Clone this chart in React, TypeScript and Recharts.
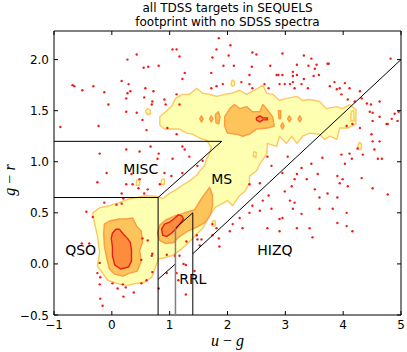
import React from 'react';
import { ComposedChart, Scatter, XAxis, YAxis, ReferenceLine, ReferenceDot } from 'recharts';

type Pt = [number, number];

const FONT = '"DejaVu Sans", sans-serif';
const MATH = '"Liberation Serif", "DejaVu Serif", serif';

const titleLines = ['all TDSS targets in SEQUELS', 'footprint with no SDSS spectra'];
const xTicks = [-1, 0, 1, 2, 3, 4, 5];
const yTicks = [-0.5, 0, 0.5, 1, 1.5, 2];

// lowest density level: QSO blob + stellar locus + red band, one region
const outerDensity: Pt[] = [
  [-0.33, 0.5], [-0.21, 0.55], [-0.04, 0.57], [0.13, 0.6], [0.31, 0.64], [0.44, 0.65], [0.6, 0.67], [0.77, 0.66],
  [0.88, 0.64], [1.0, 0.69], [1.12, 0.73], [1.22, 0.77], [1.34, 0.81], [1.47, 0.87], [1.52, 0.91], [1.6, 0.96],
  [1.64, 1.03], [1.69, 1.08], [1.72, 1.14], [1.64, 1.21], [1.52, 1.23], [1.4, 1.27], [1.29, 1.28], [1.17, 1.32],
  [1.03, 1.32], [0.91, 1.32], [0.83, 1.36], [0.83, 1.44], [0.93, 1.49], [1.03, 1.54], [1.1, 1.62], [1.22, 1.66],
  [1.34, 1.66], [1.47, 1.72], [1.57, 1.67], [1.69, 1.66], [1.81, 1.64], [1.95, 1.66], [2.07, 1.67], [2.21, 1.7],
  [2.33, 1.66], [2.5, 1.71], [2.61, 1.75], [2.68, 1.67], [2.78, 1.66], [2.9, 1.6], [3.02, 1.62], [3.2, 1.64],
  [3.3, 1.6], [3.42, 1.61], [3.59, 1.59], [3.71, 1.52], [3.89, 1.54], [3.99, 1.52], [4.11, 1.56], [4.22, 1.51],
  [4.22, 1.37], [4.08, 1.33], [3.94, 1.33], [3.89, 1.22], [3.77, 1.25], [3.68, 1.22], [3.59, 1.27], [3.42, 1.28],
  [3.3, 1.25], [3.2, 1.18], [3.11, 1.25], [3.02, 1.18], [2.9, 1.25], [2.85, 1.15], [2.69, 1.18], [2.68, 1.08],
  [2.56, 0.98], [2.5, 0.91], [2.38, 0.86], [2.38, 0.79], [2.3, 0.71], [2.21, 0.67], [2.09, 0.57], [2.0, 0.62],
  [1.78, 0.55], [1.69, 0.47], [1.57, 0.35], [1.45, 0.28], [1.31, 0.2], [1.17, 0.13], [1.03, 0.08], [0.91, 0.06],
  [0.81, 0.05], [0.74, -0.05], [0.69, -0.13], [0.56, -0.18], [0.43, -0.19], [0.25, -0.21], [0.08, -0.19],
  [-0.07, -0.16], [-0.16, -0.09], [-0.25, -0.02], [-0.21, 0.11], [-0.25, 0.28], [-0.3, 0.4],
];

const outerIslands: Pt[][] = [
  [[0.58, 1.49], [0.61, 1.52], [0.66, 1.51], [0.67, 1.47], [0.62, 1.46]],
  [[2.06, 1.76], [2.08, 1.8], [2.12, 1.79], [2.12, 1.75], [2.08, 1.74]],
  [[4.25, 1.15], [4.28, 1.19], [4.32, 1.17], [4.31, 1.12], [4.27, 1.12]],
  [[4.13, 1.4], [4.14, 1.49], [4.18, 1.5], [4.19, 1.4]],
  [[2.44, 1.06], [2.46, 1.1], [2.5, 1.09], [2.49, 1.04]],
  [[1.73, 0.37], [1.74, 0.42], [1.79, 0.42], [1.79, 0.37]],
  [[0.42, 0.77], [0.43, 0.82], [0.48, 0.82], [0.48, 0.77]],
  [[0.85, 0.78], [0.86, 0.83], [0.91, 0.83], [0.91, 0.78]],
];

// middle density level
const qsoMid: Pt[] = [
  [-0.13, 0.39], [-0.04, 0.42], [0.13, 0.44], [0.25, 0.44], [0.36, 0.45], [0.43, 0.37], [0.51, 0.32], [0.53, 0.21],
  [0.48, 0.13], [0.51, 0.03], [0.44, -0.07], [0.31, -0.09], [0.19, -0.12], [0.05, -0.1], [-0.04, -0.05],
  [-0.09, 0.06], [-0.13, 0.18], [-0.14, 0.3],
];
const locusMid: Pt[] = [
  [0.79, 0.3], [0.83, 0.38], [0.93, 0.43], [1.09, 0.47], [1.26, 0.5], [1.43, 0.53], [1.55, 0.64], [1.64, 0.71],
  [1.69, 0.75], [1.74, 0.67], [1.74, 0.57], [1.71, 0.49], [1.62, 0.41], [1.47, 0.36], [1.31, 0.32], [1.17, 0.27],
  [1.07, 0.21], [0.93, 0.2], [0.83, 0.23],
];
const bandMid: Pt[] = [
  [1.95, 1.44], [2.04, 1.52], [2.12, 1.56], [2.21, 1.52], [2.33, 1.54], [2.43, 1.49], [2.56, 1.49], [2.61, 1.56],
  [2.69, 1.51], [2.78, 1.44], [2.81, 1.35], [2.69, 1.33], [2.5, 1.32], [2.38, 1.27], [2.26, 1.25], [2.16, 1.27],
  [2.0, 1.28], [1.95, 1.35],
];
const midIslands: Pt[][] = [
  [[1.52, 1.42], [1.55, 1.45], [1.58, 1.42], [1.55, 1.39]],
  [[1.69, 1.42], [1.72, 1.45], [1.75, 1.42], [1.72, 1.39]],
  [[1.8, 1.38], [1.79, 1.46], [1.84, 1.49], [1.87, 1.44], [1.85, 1.37]],
  [[2.89, 1.42], [2.88, 1.5], [2.92, 1.5], [2.92, 1.42]],
  [[2.92, 1.35], [2.95, 1.38], [2.98, 1.35], [2.95, 1.32]],
  [[3.04, 1.42], [3.07, 1.45], [3.1, 1.42], [3.07, 1.39]],
  [[3.22, 1.42], [3.25, 1.45], [3.28, 1.42], [3.25, 1.39]],
];

// highest density level
const qsoCore: Pt[] = [
  [0.01, 0.3], [0.07, 0.34], [0.13, 0.34], [0.2, 0.29], [0.27, 0.25], [0.32, 0.21], [0.34, 0.13], [0.34, 0.03],
  [0.29, -0.03], [0.15, -0.05], [0.05, -0.01], [0.01, 0.08], [0.01, 0.17], [-0.01, 0.25],
];
const locusCore: Pt[] = [
  [0.86, 0.34], [0.91, 0.39], [1.0, 0.41], [1.09, 0.45], [1.15, 0.48], [1.21, 0.47], [1.24, 0.44], [1.12, 0.35],
  [1.03, 0.3], [0.95, 0.27], [0.88, 0.28],
];
const bandCore: Pt[] = [
  [2.5, 1.43], [2.56, 1.45], [2.61, 1.43], [2.69, 1.43], [2.69, 1.41], [2.61, 1.41], [2.56, 1.39], [2.5, 1.41],
];

// targets outside the contours
const outlierDots: Pt[] = [
  [1.85, 2.21], [2.05, 2.14], [1.05, 2.1], [1.12, 2.1], [1.17, 2.03], [0.43, 2.05], [0.27, 2.0], [2.43, 2.07],
  [2.5, 2.05], [2.95, 2.06], [3.32, 2.04], [3.45, 2.01], [3.75, 1.96], [4.82, 2.01], [2.02, 2.04], [1.81, 2.1],
  [0.81, 1.94], [0.55, 1.92], [0.63, 1.93], [1.93, 1.94], [2.11, 1.94], [2.74, 1.94], [2.42, 1.93], [3.4, 1.94],
  [3.51, 1.91], [2.88, 1.85], [2.95, 1.85], [3.13, 1.88], [3.13, 1.84], [3.32, 1.81], [3.58, 1.85], [1.26, 1.87],
  [1.22, 1.81], [1.72, 1.87], [0.17, 1.79], [0.29, 1.76], [0.32, 1.69], [0.27, 1.67], [0.58, 1.72], [0.72, 1.69],
  [0.56, 1.63], [0.7, 1.59], [0.91, 1.61], [0.93, 1.56], [0.69, 1.56], [1.12, 1.66], [0.25, 1.62], [1.17, 1.56],
  [0.25, 1.49], [0.43, 1.48], [0.53, 1.41], [-0.68, 1.75], [-0.65, 1.74], [-0.51, 1.7], [-0.32, 1.74],
  [-0.13, 1.68], [-0.06, 1.56], [1.72, 1.72], [2.43, 1.72], [2.71, 1.72], [2.9, 1.76], [2.99, 1.76], [3.13, 1.78],
  [3.28, 1.76], [3.39, 1.72], [3.85, 1.78], [4.03, 1.77], [3.94, 1.72], [4.2, 1.59], [3.97, 1.66], [4.29, 1.69],
  [4.32, 1.62], [4.63, 1.59], [4.48, 1.56], [4.51, 1.48], [4.84, 1.42], [4.96, 1.49], [4.89, 1.47],
  [1.74, 2.02], [3.2, 1.95], [3.2, 1.85], [2.85, 1.85], [3.49, 1.84], [2.38, 1.85], [2.24, 1.78], [2.38, 1.76],
  [2.64, 1.76], [3.08, 1.76], [3.16, 1.72], [3.77, 1.74], [3.89, 1.71], [4.11, 1.72], [4.08, 1.61], [1.81, 1.74],
  [1.92, 1.76], [3.73, 1.96], [3.54, 1.95],
  [4.06, 1.35], [4.29, 1.33], [4.77, 1.37], [4.63, 1.2], [4.49, 1.27], [4.11, 1.08], [4.34, 1.07], [4.54, 1.12],
  [4.67, 1.03], [4.03, 0.98], [3.97, 1.07], [3.64, 1.04], [3.45, 0.98], [3.28, 0.94], [3.2, 0.88], [3.56, 0.88],
  [3.9, 0.86], [3.94, 0.79], [4.08, 0.76], [4.32, 0.84], [4.51, 0.74], [4.77, 0.68], [3.73, 0.69], [3.51, 0.73],
  [3.59, 0.54], [3.82, 0.54], [4.06, 0.5], [3.9, 0.4], [4.16, 0.32], [3.11, 0.76], [2.99, 0.71], [2.71, 0.67],
  [2.61, 0.62], [2.43, 0.57], [2.38, 0.5], [2.21, 0.45], [2.09, 0.39], [2.04, 0.32], [2.56, 0.52], [2.76, 0.54],
  [2.95, 0.45], [3.13, 0.54], [3.08, 0.62], [3.28, 0.49], [3.42, 0.35], [3.2, 0.35], [2.9, 0.32], [2.69, 0.35],
  [2.26, 0.35], [1.81, 0.35], [1.74, 0.28], [1.47, 0.28], [3.47, 0.26], [4.6, 1.03], [4.25, 1.13], [4.51, 1.2],
  [4.63, 1.44], [4.75, 1.37], [4.94, 1.4], [4.51, 1.4], [4.46, 1.49], [4.41, 1.57], [4.16, 1.37], [2.95, 0.89],
  [2.76, 0.96], [2.69, 1.05], [3.04, 1.05], [3.16, 0.83], [3.37, 0.83], [3.59, 0.65], [4.06, 0.37], [3.9, 0.65],
  [3.99, 0.83], [4.15, 1.03], [2.56, 0.79], [2.38, 0.78], [3.16, 0.6], [2.9, 0.44],
  [-0.89, 1.34], [-0.23, 1.35], [0.6, 1.31], [0.96, 1.33], [1.12, 1.27], [-0.21, 1.08], [0.25, 1.12], [0.48, 1.1],
  [0.67, 1.15], [0.81, 1.08], [0.79, 1.03], [1.26, 1.12], [1.34, 1.05], [-0.09, 0.89], [-0.25, 0.8], [0.34, 0.88],
  [0.25, 0.78], [0.36, 0.78], [0.48, 0.83], [0.17, 0.69], [0.46, 0.74], [-0.44, 0.51], [1.48, 0.96], [1.57, 1.01],
  [1.22, 1.15], [1.05, 1.03], [0.91, 0.89], [1.03, 0.86], [0.83, 0.78], [1.22, 0.89],
  [-0.39, 0.2], [-0.52, 0.2], [-0.21, 0.01], [-0.25, -0.09], [-0.2, -0.13], [-0.21, -0.2], [0.01, -0.19],
  [0.1, -0.24], [0.19, -0.2], [0.24, -0.23], [0.2, -0.32], [0.38, -0.28], [0.51, -0.19], [-0.2, -0.34],
  [-0.16, -0.41], [0.51, 0.04], [0.7, -0.08], [0.7, 0.1], [0.81, -0.24], [0.95, 0.09], [1.09, 0.08], [1.12, -0.09],
  [1.15, -0.16], [1.24, 0.0], [1.28, -0.01], [1.28, -0.3], [1.29, 0.22], [1.48, 0.24], [1.55, 0.24], [1.52, 0.18],
  [1.85, 0.25], [1.86, 0.17], [-0.33, 0.46], [-0.13, 0.6], [0.08, 0.58], [0.17, 0.59], [0.2, 0.64], [0.62, 0.73],
  [0.56, 0.69], [0.53, 0.25], [0.62, 0.23], [0.69, 0.08], [0.6, -0.16], [0.95, -0.09], [1.43, -0.07], [1.17, 0.08],
  [1.74, 0.39],
];

// selection boxes in (u-g, g-r)
const boundarySegments: [Pt, Pt][] = [
  [[-1, 1.2], [1.9, 1.2]],
  [[1.9, 1.2], [0.8, 0.65]],
  [[-1, 0.65], [0.8, 0.65]],
  [[0.8, 0.65], [0.8, -0.5]],
  [[0.8, -0.15], [1.1, 0.0]],
  [[1.1, 0.35], [1.4, 0.5]],
  [[1.4, 0.5], [1.4, -0.5]],
  [[1.4, 0.1], [5, 2.0]],
];
const rrlDivider: [Pt, Pt] = [[1.1, 0.35], [1.1, -0.5]];

const regionNames = ['MISC', 'MS', 'QSO', 'RRL', 'HIZQ'];
const regionLabelPos: Pt[] = [[0.5, 0.93], [1.9, 0.83], [-0.54, 0.14], [1.4, -0.15], [2.82, 0.14]];

const LEVEL_FILL = ['#ffffb2', '#fec45c', '#fd8d3c'];
const LEVEL_EDGE = ['#fec860', '#fd9a42', '#e3211c'];

const toXY = (pts: Pt[]) => pts.map(([x, y]) => ({ x, y }));
const minus = (s: string) => s.replace('-', '\u2212');

const contourLayers: { pts: Pt[]; level: number }[] = [
  { pts: outerDensity, level: 0 },
  ...outerIslands.map((pts) => ({ pts, level: 0 })),
  { pts: qsoMid, level: 1 },
  { pts: locusMid, level: 1 },
  { pts: bandMid, level: 1 },
  ...midIslands.map((pts) => ({ pts, level: 1 })),
  { pts: qsoCore, level: 2 },
  { pts: locusCore, level: 2 },
  { pts: bandCore, level: 2 },
];

const polygonLine = (level: number) => (props: any) => (
  <polygon
    points={(props.points || []).map((p: any) => `${p.x},${p.y}`).join(' ')}
    fill={LEVEL_FILL[level]}
    stroke={LEVEL_EDGE[level]}
    strokeWidth={1.4}
    strokeLinejoin="round"
  />
);
const noSymbol = () => <g />;
const dotShape = (p: any) => <circle cx={p.cx} cy={p.cy} r={1.2} fill="#f01a1a" />;

const BottomTick = ({ x, y, payload }: any) => (
  <g>
    <line x1={x} x2={x} y1={y} y2={y - 4} stroke="#000" />
    <text x={x} y={y + 14} textAnchor="middle" fontFamily={FONT} fontSize={12} fill="#000">
      {minus(String(payload.value))}
    </text>
  </g>
);
const LeftTick = ({ x, y, payload }: any) => (
  <g>
    <line x1={x} x2={x + 4} y1={y} y2={y} stroke="#000" />
    <text x={x - 5} y={y + 4.5} textAnchor="end" fontFamily={FONT} fontSize={12} fill="#000">
      {minus(payload.value.toFixed(1))}
    </text>
  </g>
);
const TopTick = ({ x, y }: any) => <line x1={x} x2={x} y1={y} y2={y + 4} stroke="#000" />;
const RightTick = ({ x, y }: any) => <line x1={x} x2={x - 4} y1={y} y2={y} stroke="#000" />;

const TitleLabel = (props: any) => {
  const vb = props.viewBox;
  const cx = vb.x + vb.width / 2;
  return (
    <text textAnchor="middle" fontFamily={FONT} fontSize={12} fill="#000">
      <tspan x={cx} y={12}>{titleLines[0]}</tspan>
      <tspan x={cx} y={26}>{titleLines[1]}</tspan>
    </text>
  );
};
const XTitle = (props: any) => {
  const vb = props.viewBox;
  return (
    <text x={vb.x + vb.width / 2} y={vb.y + 31} textAnchor="middle" fontFamily={MATH} fontSize={16} fill="#000">
      <tspan fontStyle="italic">u</tspan> {'\u2212'} <tspan fontStyle="italic">g</tspan>
    </text>
  );
};
const YTitle = (props: any) => {
  const vb = props.viewBox;
  const cy = vb.y + vb.height / 2 + 7;
  return (
    <text x={15} y={cy} transform={`rotate(-90 15 ${cy})`} textAnchor="middle" fontFamily={MATH} fontSize={16} fill="#000">
      <tspan fontStyle="italic">g</tspan> {'\u2212'} <tspan fontStyle="italic">r</tspan>
    </text>
  );
};

const App: React.FC = () => (
  <div style={{ position: 'absolute', left: 0, top: 0, width: 407, height: 352, background: '#fff' }}>
    <ComposedChart width={407} height={352} margin={{ top: 30, right: 5, bottom: 0, left: 0 }}>
      <XAxis
        type="number" dataKey="x" domain={[-1, 5]} ticks={xTicks} allowDataOverflow
        height={37} tickSize={0} tickMargin={0} tick={BottomTick} tickLine={false}
        axisLine={{ stroke: '#000' }} label={XTitle} interval={0}
      />
      <XAxis
        xAxisId="top" orientation="top" type="number" dataKey="x" domain={[-1, 5]} ticks={xTicks} allowDataOverflow
        height={1} tickSize={0} tickMargin={0} tick={TopTick} tickLine={false}
        axisLine={{ stroke: '#000' }} label={TitleLabel} interval={0}
      />
      <YAxis
        type="number" dataKey="y" domain={[-0.5, 2.28]} ticks={yTicks} allowDataOverflow
        width={54} tickSize={0} tickMargin={0} tick={LeftTick} tickLine={false}
        axisLine={{ stroke: '#000' }} label={YTitle} interval={0}
      />
      <YAxis
        yAxisId="right" orientation="right" type="number" dataKey="y" domain={[-0.5, 2.28]} ticks={yTicks}
        allowDataOverflow width={1} tickSize={0} tickMargin={0} tick={RightTick} tickLine={false}
        axisLine={{ stroke: '#000' }} interval={0}
      />
      {contourLayers.map((c, i) => (
        <Scatter
          key={`contour-${i}`}
          data={toXY(c.pts)}
          shape={noSymbol}
          line={polygonLine(c.level)}
          lineType="joint"
          isAnimationActive={false}
        />
      ))}
      <Scatter data={toXY(outlierDots)} shape={dotShape} isAnimationActive={false} zIndex={610} />
      {boundarySegments.map(([a, b], i) => (
        <ReferenceLine
          key={`seg-${i}`}
          segment={[{ x: a[0], y: a[1] }, { x: b[0], y: b[1] }]}
          stroke="#000"
          strokeWidth={1}
          ifOverflow="visible"
          zIndex={650}
        />
      ))}
      <ReferenceLine
        segment={[{ x: rrlDivider[0][0], y: rrlDivider[0][1] }, { x: rrlDivider[1][0], y: rrlDivider[1][1] }]}
        stroke="#808080"
        strokeWidth={1.5}
        ifOverflow="visible"
        zIndex={650}
      />
      {regionNames.map((name, i) => (
        <ReferenceDot
          key={name}
          x={regionLabelPos[i][0]}
          y={regionLabelPos[i][1]}
          r={0}
          ifOverflow="visible"
          zIndex={700}
          shape={(p: any) => (
            <text x={p.cx} y={p.cy + 5} textAnchor="middle" fontFamily={FONT} fontSize={14} fill="#000">
              {name}
            </text>
          )}
        />
      ))}
    </ComposedChart>
  </div>
);

export default App;
